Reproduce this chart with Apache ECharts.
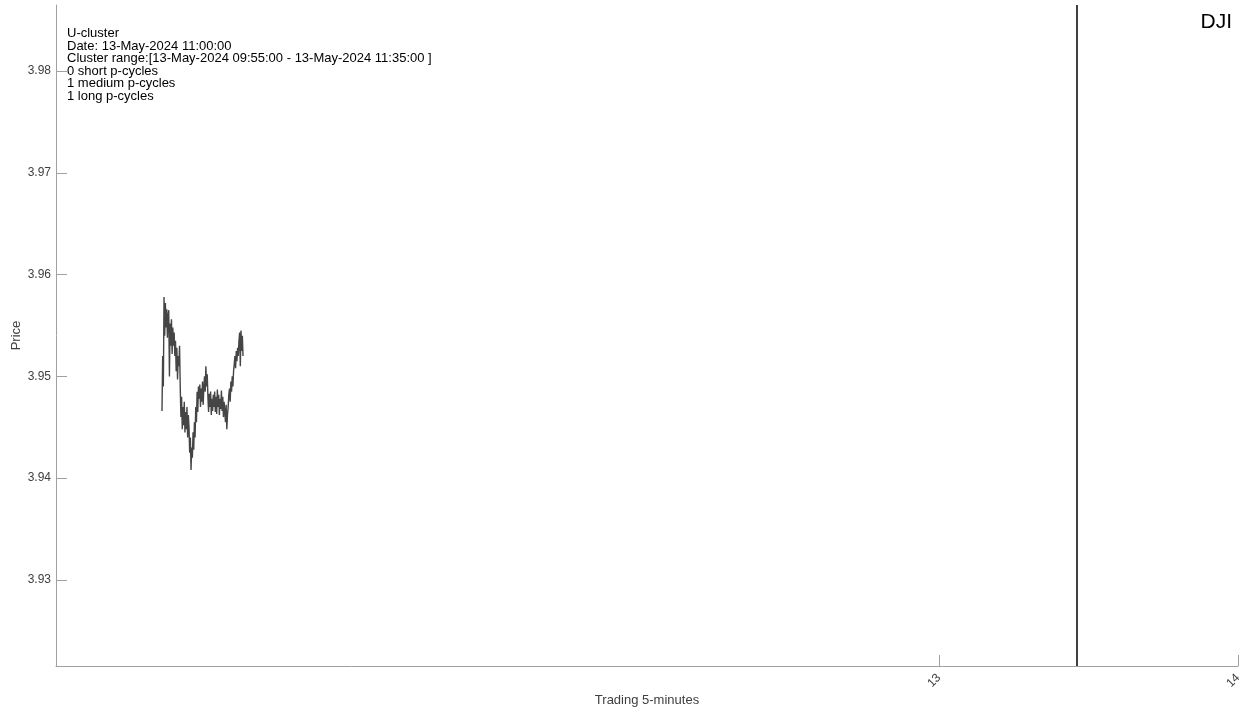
<!DOCTYPE html>
<html>
<head>
<meta charset="utf-8">
<script src="https://cdn.jsdelivr.net/npm/echarts@6/dist/echarts.min.js"></script>
<style>
html,body{margin:0;padding:0;background:#fff;}
#c{width:1253px;height:713px;}
</style>
</head>
<body>
<div id="c"></div>
<script>
// ---- data ----
const xStart = 10.4015;      // first sample position on x axis
const xStep = 0.002258;      // spacing between samples
const priceValues = [
  3.9466, 3.9520, 3.9490, 3.9578,
  3.9540, 3.9572, 3.9548, 3.9566, 3.9538, 3.9560,
  3.9565, 3.9500, 3.9552,
  3.9530, 3.9556, 3.9522, 3.9548, 3.9530, 3.9543, 3.9520,
  3.9535, 3.9505, 3.9528, 3.9497, 3.9520, 3.9510, 3.9530,
  3.9490, 3.9460, 3.9480, 3.9448, 3.9470, 3.9452,
  3.9475, 3.9445, 3.9465, 3.9448, 3.9470, 3.9440, 3.9462,
  3.9450, 3.9425, 3.9440, 3.9408, 3.9430,
  3.9420, 3.9445, 3.9428, 3.9455, 3.9440,
  3.9470, 3.9455, 3.9485, 3.9465, 3.9490, 3.9478,
  3.9492, 3.9470, 3.9488, 3.9475, 3.9495, 3.9472, 3.9490,
  3.9500, 3.9485, 3.9510, 3.9490, 3.9502,
  3.9480, 3.9465, 3.9483, 3.9470, 3.9485, 3.9462, 3.9478, 3.9466, 3.9482, 3.9470,
  3.9485, 3.9465, 3.9480, 3.9463, 3.9487, 3.9470, 3.9482, 3.9462, 3.9478, 3.9468, 3.9486, 3.9466, 3.9480, 3.9460, 3.9475,
  3.9465, 3.9455, 3.9472, 3.9448, 3.9462, 3.9470,
  3.9482, 3.9488, 3.9475, 3.9495, 3.9485, 3.9500, 3.9490, 3.9505,
  3.9512, 3.9520, 3.9508, 3.9525, 3.9515, 3.9528, 3.9520,
  3.9535, 3.9543, 3.9510, 3.9545, 3.9525, 3.9540, 3.9520
];
const xTicks = [13, 14];
const yTicks = [3.93, 3.94, 3.95, 3.96, 3.97, 3.98];
const xRange = [10.047, 14];
const yRange = [3.92155, 3.98648];
const markerX = 13.458;
const infoLines = [
  'U-cluster',
  'Date: 13-May-2024 11:00:00',
  'Cluster range:[13-May-2024 09:55:00 - 13-May-2024 11:35:00 ]',
  '0 short p-cycles',
  '1 medium p-cycles',
  '1 long p-cycles'
];
const symbolLabel = 'DJI';

// ---- chart ----
const seriesData = priceValues.map((v, i) => [xStart + i * xStep, v]);
const axisGrey = '#a0a0a0';
const textGrey = '#404040';
const chart = echarts.init(document.getElementById('c'), null, {renderer: 'canvas'});
chart.setOption({
  animation: false,
  backgroundColor: '#fff',
  grid: {left: 56, right: 15, top: 5, bottom: 47, containLabel: false, outerBoundsMode: 'none'},
  xAxis: {
    type: 'value', min: xRange[0], max: xRange[1],
    name: 'Trading 5-minutes', nameLocation: 'middle', nameGap: 28, nameMoveOverlap: false,
    nameTextStyle: {fontFamily: 'Liberation Sans', fontSize: 13, color: textGrey},
    splitLine: {show: false},
    axisLine: {show: true, onZero: false, lineStyle: {color: axisGrey, width: 1}},
    axisTick: {show: true, inside: true, length: 11, customValues: xTicks, lineStyle: {color: axisGrey}},
    axisLabel: {customValues: xTicks, rotate: 45, margin: 10, fontFamily: 'Liberation Sans', fontSize: 12, color: textGrey}
  },
  yAxis: {
    type: 'value', min: yRange[0], max: yRange[1],
    name: 'Price', nameLocation: 'middle', nameGap: 33, nameRotate: 90, nameMoveOverlap: false,
    nameTextStyle: {fontFamily: 'Liberation Sans', fontSize: 13, color: textGrey},
    splitLine: {show: false},
    axisLine: {show: true, lineStyle: {color: axisGrey, width: 1}},
    axisTick: {show: true, inside: true, length: 11, customValues: yTicks, lineStyle: {color: axisGrey}},
    axisLabel: {customValues: yTicks, margin: 5, fontFamily: 'Liberation Sans', fontSize: 12, color: textGrey,
      formatter: v => v.toFixed(2)}
  },
  series: [{
    type: 'line', data: seriesData, showSymbol: false, symbol: 'none',
    lineStyle: {color: '#454545', width: 1.4},
    markLine: {
      silent: true, symbol: ['none', 'none'], label: {show: false},
      lineStyle: {color: '#000', width: 1.5, type: 'solid'},
      data: [{xAxis: markerX}]
    }
  }],
  graphic: [
    {type: 'text', left: 67, top: 27,
      style: {text: infoLines.join('\n'), fontFamily: 'Liberation Sans', fontSize: 13, lineHeight: 12.6, fill: '#000'}},
    {type: 'text', right: 21, top: 12,
      style: {text: symbolLabel, fontFamily: 'Liberation Sans', fontSize: 21, fill: '#000'}}
  ]
});
</script>
</body>
</html>
